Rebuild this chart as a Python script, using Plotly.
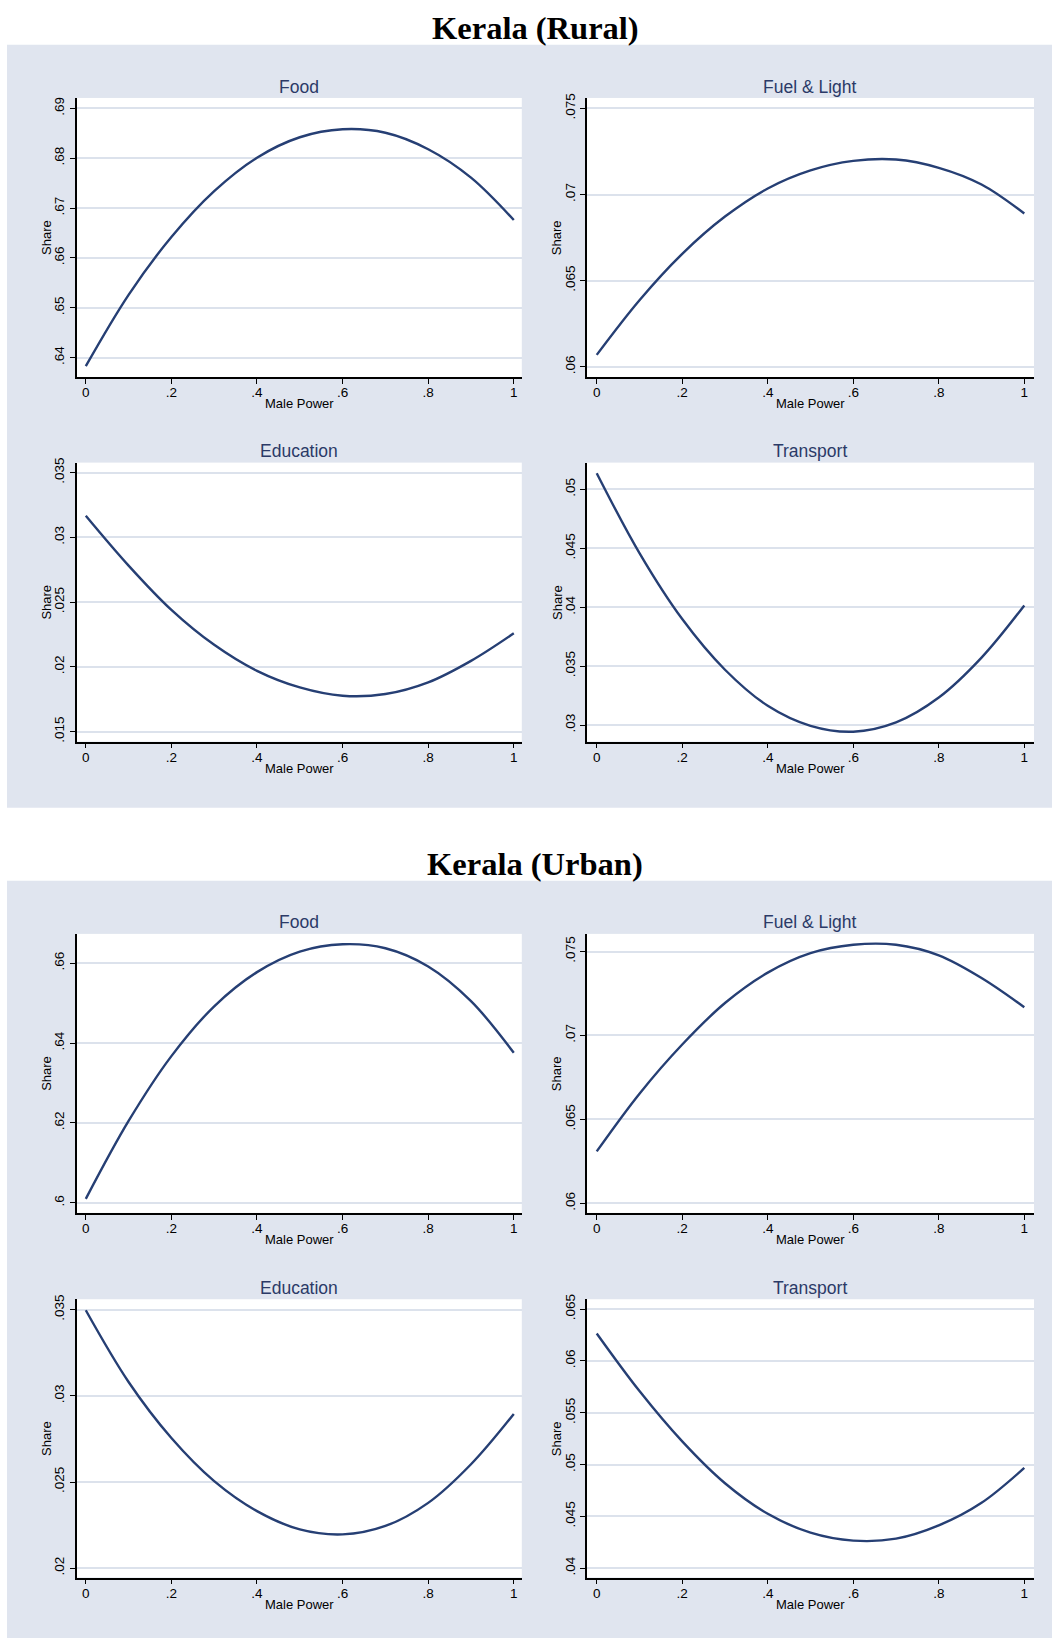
import plotly.graph_objects as go

# ---------------- data ----------------
MALE_POWER = [0.0, 0.1, 0.2, 0.3, 0.4, 0.5, 0.6, 0.7, 0.8, 0.9, 1.0]
X_TICKS = [0, 0.2, 0.4, 0.6, 0.8, 1]
X_TICK_LABELS = ["0", ".2", ".4", ".6", ".8", "1"]

RURAL_FOOD = [0.6383, 0.6526, 0.6642, 0.6734, 0.6801, 0.6842, 0.6858, 0.6851, 0.6818, 0.6761, 0.6676]
RURAL_FUEL = [0.0607, 0.06387, 0.06656, 0.06872, 0.07035, 0.0714, 0.07195, 0.07203, 0.07155, 0.07058, 0.0689]
RURAL_EDU = [0.03167, 0.02782, 0.0244, 0.0217, 0.01969, 0.01841, 0.01777, 0.0179, 0.0188, 0.02046, 0.02259]
RURAL_TRANS = [0.05138, 0.0446, 0.039, 0.0347, 0.03164, 0.02994, 0.02944, 0.03023, 0.03234, 0.03573, 0.04016]
URBAN_FOOD = [0.601, 0.6205, 0.63673, 0.6492, 0.65776, 0.6629, 0.66474, 0.66374, 0.65918, 0.6505, 0.63756]
URBAN_FUEL = [0.06309, 0.06653, 0.06946, 0.07193, 0.07374, 0.0749, 0.0754, 0.0754, 0.07477, 0.07342, 0.07168]
URBAN_EDU = [0.03496, 0.0308, 0.02755, 0.02505, 0.02331, 0.02225, 0.02196, 0.02245, 0.02379, 0.02603, 0.02895]
URBAN_TRANS = [0.06266, 0.0571, 0.05224, 0.0482, 0.04525, 0.04343, 0.04266, 0.04285, 0.04413, 0.04631, 0.04968]

RURAL_FOOD_TICKS = [0.64, 0.65, 0.66, 0.67, 0.68, 0.69]
RURAL_FOOD_LABELS = [".64", ".65", ".66", ".67", ".68", ".69"]
RURAL_FUEL_TICKS = [0.06, 0.065, 0.07, 0.075]
RURAL_FUEL_LABELS = [".06", ".065", ".07", ".075"]
RURAL_EDU_TICKS = [0.015, 0.02, 0.025, 0.03, 0.035]
RURAL_EDU_LABELS = [".015", ".02", ".025", ".03", ".035"]
RURAL_TRANS_TICKS = [0.03, 0.035, 0.04, 0.045, 0.05]
RURAL_TRANS_LABELS = [".03", ".035", ".04", ".045", ".05"]
URBAN_FOOD_TICKS = [0.6, 0.62, 0.64, 0.66]
URBAN_FOOD_LABELS = [".6", ".62", ".64", ".66"]
URBAN_FUEL_TICKS = [0.06, 0.065, 0.07, 0.075]
URBAN_FUEL_LABELS = [".06", ".065", ".07", ".075"]
URBAN_EDU_TICKS = [0.02, 0.025, 0.03, 0.035]
URBAN_EDU_LABELS = [".02", ".025", ".03", ".035"]
URBAN_TRANS_TICKS = [0.04, 0.045, 0.05, 0.055, 0.06, 0.065]
URBAN_TRANS_LABELS = [".04", ".045", ".05", ".055", ".06", ".065"]

MAIN_TITLES = ["Kerala (Rural)", "Kerala (Urban)"]
X_TITLE = "Male Power"
Y_TITLE = "Share"

# ---------------- layout / style ----------------
W, H = 1052, 1638
PANEL_BG = "#E0E5EF"
GRID = "#DCE2EC"
LINE = "#263F74"
TITLE_COL = "#2B3A67"
SANS = "Liberation Sans, Arial, sans-serif"
SERIF = "Liberation Serif, Times New Roman, serif"

COLS = {0: (76.5, 521.8), 1: (586.8, 1034.0)}
ROWS = {0: (93.3, 373.3), 1: (459.3, 739.3), 2: (932.3, 1212.3), 3: (1299.0, 1578.3)}
XRANGES = {0: [-0.0217, 1.0187], 1: [-0.0232, 1.0227]}

SUBPLOTS = [
    (0, 0, "Food", RURAL_FOOD, RURAL_FOOD_TICKS, RURAL_FOOD_LABELS, [0.63614, 0.69208]),
    (0, 1, "Fuel & Light", RURAL_FUEL, RURAL_FUEL_TICKS, RURAL_FUEL_LABELS, [0.05942, 0.0756]),
    (1, 0, "Education", RURAL_EDU, RURAL_EDU_TICKS, RURAL_EDU_LABELS, [0.01423, 0.03577]),
    (1, 1, "Transport", RURAL_TRANS, RURAL_TRANS_TICKS, RURAL_TRANS_LABELS, [0.0286, 0.05228]),
    (2, 0, "Food", URBAN_FOOD, URBAN_FOOD_TICKS, URBAN_FOOD_LABELS, [0.5975, 0.66733]),
    (2, 1, "Fuel & Light", URBAN_FUEL, URBAN_FUEL_TICKS, URBAN_FUEL_LABELS, [0.05943, 0.07605]),
    (3, 0, "Education", URBAN_EDU, URBAN_EDU_TICKS, URBAN_EDU_LABELS, [0.01946, 0.0356]),
    (3, 1, "Transport", URBAN_TRANS, URBAN_TRANS_TICKS, URBAN_TRANS_LABELS, [0.0391, 0.06596]),
]

def px_x(v):
    return v / W

def px_y(v):
    return 1 - v / H

fig = go.Figure()
layout = {}
annotations = []

for i, (r, c, title, ys, yt, yl, yr) in enumerate(SUBPLOTS):
    n = i + 1
    xa = "x" if n == 1 else f"x{n}"
    ya = "y" if n == 1 else f"y{n}"
    fig.add_trace(go.Scatter(
        x=MALE_POWER, y=ys, mode="lines",
        line=dict(color=LINE, width=2.4, shape="spline", smoothing=1.0),
        xaxis=xa, yaxis=ya, showlegend=False, hoverinfo="skip"))
    x0, x1 = COLS[c]
    top, bot = ROWS[r]
    key = "" if n == 1 else str(n)
    layout["xaxis" + key] = dict(
        domain=[px_x(x0), px_x(x1)], range=XRANGES[c], anchor=ya,
        tickmode="array", tickvals=X_TICKS, ticktext=X_TICK_LABELS,
        showgrid=False, zeroline=False, showline=True, linecolor="black", linewidth=1.6,
        ticks="outside", ticklen=5, tickwidth=1.3, tickcolor="black", ticklabelstandoff=-3,
        tickfont=dict(family=SANS, size=13.5, color="black"), fixedrange=True)
    layout["yaxis" + key] = dict(
        domain=[px_y(bot), px_y(top)], range=yr, anchor=xa,
        tickmode="array", tickvals=yt, ticktext=yl, tickangle=-90,
        showgrid=True, gridcolor=GRID, gridwidth=2,
        zeroline=False, showline=True, linecolor="black", linewidth=1.6,
        ticks="outside", ticklen=5, tickwidth=1.3, tickcolor="black",
        tickfont=dict(family=SANS, size=13.5, color="black"), fixedrange=True)
    cx = (x0 + x1) / 2
    annotations.append(dict(text=title, x=px_x(cx), y=px_y(top - 11.5), xref="paper", yref="paper",
                            xanchor="center", yanchor="middle", showarrow=False,
                            font=dict(family=SANS, size=17.5, color=TITLE_COL)))
    annotations.append(dict(text=X_TITLE, x=px_x(cx), y=px_y(bot + 27), xref="paper", yref="paper",
                            xanchor="center", yanchor="middle", showarrow=False,
                            font=dict(family=SANS, size=13, color="black")))
    annotations.append(dict(text=Y_TITLE, x=px_x(x0 - 30), y=px_y((top + bot) / 2), xref="paper", yref="paper",
                            xanchor="center", yanchor="middle", showarrow=False, textangle=-90,
                            font=dict(family=SANS, size=13, color="black")))

for t, yc in zip(MAIN_TITLES, [23, 862]):
    annotations.append(dict(text="<b>" + t + "</b>", x=px_x(535), y=px_y(yc), xref="paper", yref="paper",
                            xanchor="center", yanchor="middle", showarrow=False,
                            font=dict(family=SERIF, size=32.5, color="black")))

shapes = [
    dict(type="rect", xref="paper", yref="paper", x0=-0.01, x1=1.01, y0=px_y(40), y1=1.01,
         fillcolor="white", line=dict(width=0), layer="below"),
    dict(type="rect", xref="paper", yref="paper", x0=-0.01, x1=1.01, y0=px_y(879), y1=px_y(805.7),
         fillcolor="white", line=dict(width=0), layer="below"),
    dict(type="rect", xref="paper", yref="paper", x0=-0.01, x1=px_x(7), y0=-0.01, y1=1.01,
         fillcolor="white", line=dict(width=0), layer="below"),
]

fig.update_layout(
    width=W, height=H, margin=dict(l=0, r=0, t=0, b=0),
    paper_bgcolor=PANEL_BG, plot_bgcolor="white",
    annotations=annotations, shapes=shapes, showlegend=False,
    **layout)

POST = (
    "document.documentElement.style.margin='0px';"
    "document.body.style.margin='0px';document.body.style.padding='0px';"
    "document.documentElement.style.overflow='hidden';document.body.style.overflow='hidden';"
    "var gd=document.getElementById('{plot_id}');"
    "gd.style.position='absolute';gd.style.top='0px';gd.style.left='0px';"
)

fig.write_html("out.html", config={"displayModeBar": False}, post_script=POST)
